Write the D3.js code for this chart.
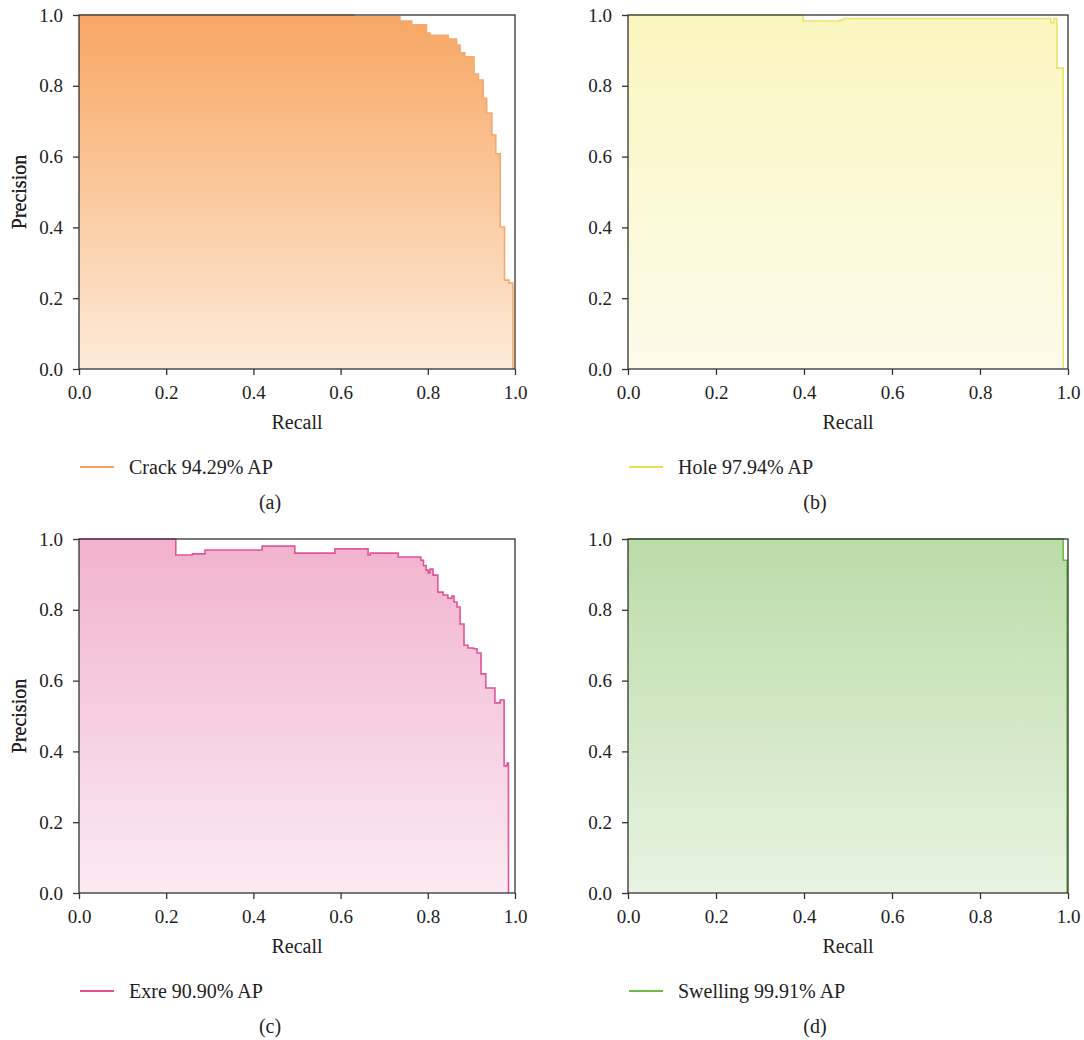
<!DOCTYPE html>
<html>
<head>
<meta charset="utf-8">
<script src="https://cdn.jsdelivr.net/npm/d3@7"></script>
<style>
  body { margin: 0; background: #fff; }
  svg text { font-family: 'Liberation Serif', 'Times New Roman', 'DejaVu Serif', serif !important; fill: #222; }
</style>
</head>
<body>
<div id="chart"></div>
<script>
// PR curves (step points: precision holds until next recall)
const recallCrack    = [0, 0.63, 0.736, 0.763, 0.797, 0.805, 0.847, 0.866, 0.874, 0.885, 0.906, 0.916, 0.927, 0.935, 0.947, 0.956, 0.966, 0.976, 0.986, 0.995]
const precisionCrack = [1.0, 0.995, 0.983, 0.972, 0.949, 0.943, 0.932, 0.915, 0.893, 0.882, 0.833, 0.816, 0.765, 0.723, 0.661, 0.608, 0.401, 0.251, 0.243, 0]

const recallHole    = [0, 0.398, 0.482, 0.489, 0.961, 0.968, 0.975, 0.989]
const precisionHole = [1.0, 0.983, 0.986, 0.99, 0.978, 0.99, 0.85, 0]

const recallExre    = [0, 0.222, 0.26, 0.289, 0.42, 0.495, 0.587, 0.663, 0.668, 0.732, 0.784, 0.79, 0.796, 0.801, 0.805, 0.812, 0.823, 0.835, 0.846, 0.855, 0.86, 0.867, 0.874, 0.883, 0.892, 0.905, 0.913, 0.922, 0.933, 0.954, 0.966, 0.975, 0.982, 0.985]
const precisionExre = [1.0, 0.955, 0.958, 0.969, 0.98, 0.96, 0.972, 0.955, 0.96, 0.949, 0.94, 0.925, 0.912, 0.904, 0.915, 0.898, 0.85, 0.842, 0.833, 0.839, 0.822, 0.808, 0.76, 0.70, 0.692, 0.69, 0.678, 0.619, 0.579, 0.537, 0.545, 0.359, 0.367, 0]

const recallSwelling    = [0, 0.989, 0.998]
const precisionSwelling = [1.0, 0.94, 0]

const classNames = ["Crack", "Hole", "Exre", "Swelling"]
const apValues = ["94.29%", "97.94%", "90.90%", "99.91%"]
const captions = ["(a)", "(b)", "(c)", "(d)"]
const xTicks = [0, 0.2, 0.4, 0.6, 0.8, 1.0]
const yTicks = [0, 0.2, 0.4, 0.6, 0.8, 1.0]

const curves = [
    [recallCrack, precisionCrack],
    [recallHole, precisionHole],
    [recallExre, precisionExre],
    [recallSwelling, precisionSwelling]
]

// styling per panel
const lineColors = ["#f5a96c", "#ece36e", "#e0559c", "#6cbd45"]
const legendColors = ["#f4a361", "#e8e04f", "#e0529a", "#6cbd45"]
const fillTop = ["#f7a663", "#faf6bf", "#f1b2ce", "#bbdca8"]
const fillBottom = ["#fdebd8", "#fcfbea", "#fbeaf2", "#e8f3e1"]
const FONT = "'Liberation Serif', 'Times New Roman', 'DejaVu Serif', serif"

const W = 1084, H = 1040
const colLeft = [79, 628], colWidth = [436, 440], colCenter = [270, 815]
const rowTop = [15, 539], plotH = 354

const svg = d3.select("#chart").append("svg")
    .attr("width", W)
    .attr("height", H)
    .attr("font-family", FONT)

const defs = svg.append("defs")

curves.forEach(function(c, i) {
    const col = i % 2, row = Math.floor(i / 2)
    const x0 = colLeft[col], y0 = rowTop[row], w = colWidth[col]

    const x = d3.scaleLinear().domain([0, 1]).range([0, w])
    const y = d3.scaleLinear().domain([0, 1]).range([plotH, 0])

    const pts = c[0].map(function(r, k) { return [r, c[1][k]] })

    const grad = defs.append("linearGradient")
        .attr("id", "grad" + i)
        .attr("x1", 0).attr("y1", 0).attr("x2", 0).attr("y2", 1)
    grad.append("stop").attr("offset", "0%").attr("stop-color", fillTop[i])
    grad.append("stop").attr("offset", "100%").attr("stop-color", fillBottom[i])

    const g = svg.append("g").attr("transform", "translate(" + x0 + "," + y0 + ")")

    const area = d3.area()
        .curve(d3.curveStepAfter)
        .x(function(d) { return x(d[0]) })
        .y0(y(0))
        .y1(function(d) { return y(d[1]) })

    const line = d3.line()
        .curve(d3.curveStepAfter)
        .x(function(d) { return x(d[0]) })
        .y(function(d) { return y(d[1]) })

    g.append("path")
        .datum(pts)
        .attr("d", area)
        .attr("fill", "url(#grad" + i + ")")

    g.append("path")
        .datum(pts)
        .attr("d", line)
        .attr("fill", "none")
        .attr("stroke", lineColors[i])
        .attr("stroke-width", 1.6)

    // frame
    g.append("rect")
        .attr("width", w)
        .attr("height", plotH)
        .attr("fill", "none")
        .attr("stroke", "#333")
        .attr("stroke-width", 1.3)

    const xAxis = g.append("g")
        .attr("transform", "translate(0," + plotH + ")")
        .call(d3.axisBottom(x).tickValues(xTicks).tickSize(6).tickPadding(11).tickFormat(d3.format(".1f")))
    const yAxis = g.append("g")
        .call(d3.axisLeft(y).tickValues(yTicks).tickSize(6).tickPadding(10).tickFormat(d3.format(".1f")))

    ;[xAxis, yAxis].forEach(function(a) {
        a.attr("font-family", FONT)
        a.select(".domain").remove()
        a.selectAll("line").attr("stroke", "#333").attr("stroke-width", 1.3)
        a.selectAll("text").attr("font-size", 19).attr("fill", "#222")
    })

    g.append("text")
        .attr("x", w / 2)
        .attr("y", plotH + 60)
        .attr("text-anchor", "middle")
        .attr("font-size", 20)
        .text("Recall")

    g.append("text")
        .attr("transform", "translate(" + (19 - x0) + "," + (plotH / 2) + ") rotate(-90)")
        .attr("text-anchor", "middle")
        .attr("dy", "0.35em")
        .attr("font-size", 20)
        .text("Precision")

    // legend
    const ly = y0 + plotH + 98
    svg.append("line")
        .attr("x1", x0 + 1).attr("x2", x0 + 35)
        .attr("y1", ly).attr("y2", ly)
        .attr("stroke", legendColors[i])
        .attr("stroke-width", 2)
    svg.append("text")
        .attr("x", x0 + 50)
        .attr("y", ly)
        .attr("dy", "0.35em")
        .attr("font-size", 20)
        .text(classNames[i] + " " + apValues[i] + " AP")

    svg.append("text")
        .attr("x", colCenter[col])
        .attr("y", y0 + plotH + 140)
        .attr("text-anchor", "middle")
        .attr("font-size", 20)
        .text(captions[i])
})
</script>
</body>
</html>
